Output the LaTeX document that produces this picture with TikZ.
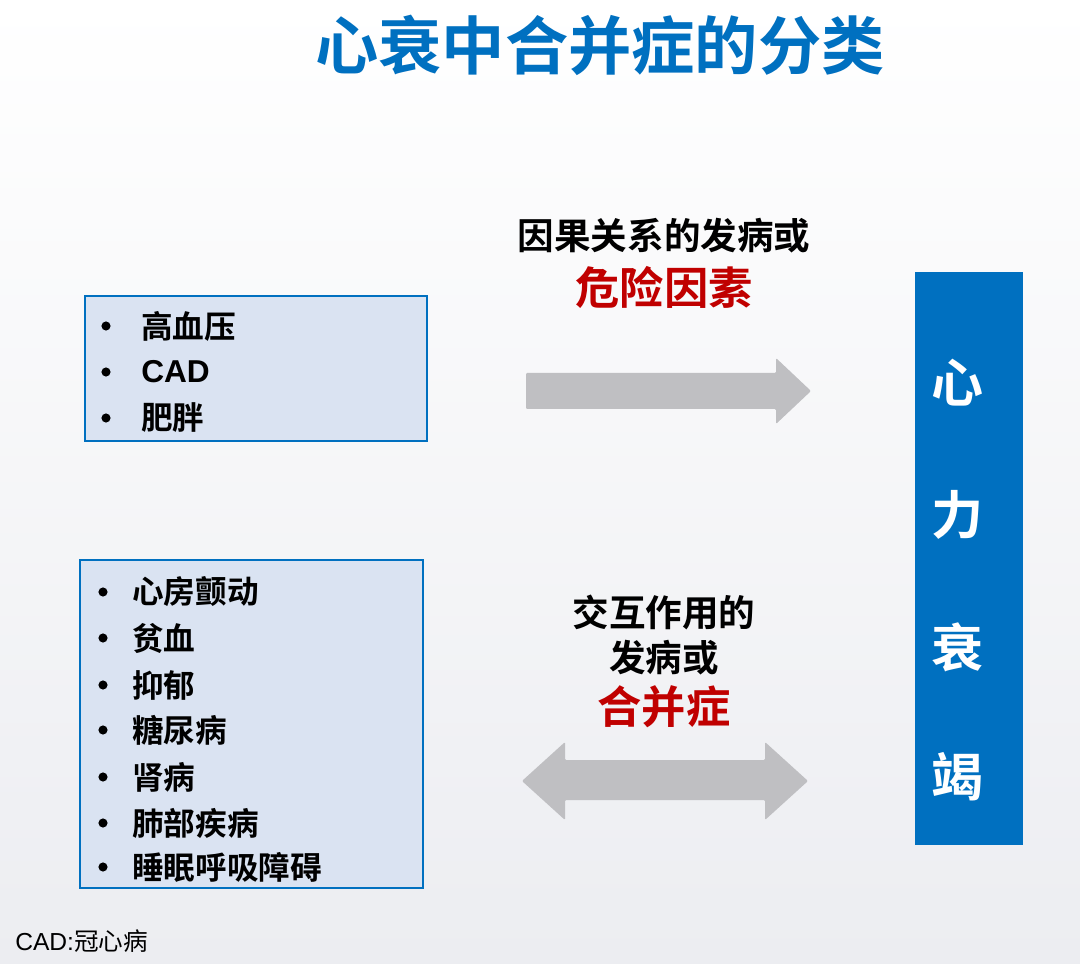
\documentclass[tikz,border=0pt]{standalone}
\usepackage{fontspec}
\setmainfont{Noto Sans CJK SC}[BoldFont={* Bold}]
\newfontfamily\latinfont{Liberation Sans}
\usepackage{xcolor}
\usepackage{tikz}
\usetikzlibrary{positioning, calc}
\definecolor{hfblue}{HTML}{0070C0}
\definecolor{hfred}{HTML}{C00000}
\definecolor{boxfill}{HTML}{DAE3F2}
\definecolor{arrowgrey}{HTML}{BFBFC2}
\definecolor{bgbottom}{HTML}{ECEDF1}
\tikzstyle{titletext} = [text=hfblue, font=\fontsize{45}{50}\selectfont\bfseries]
\tikzstyle{listbox} = [rectangle, draw=hfblue, line width=1.2pt, fill=boxfill, inner sep=0pt]
\tikzstyle{item} = [anchor=west, inner sep=0pt, font=\fontsize{22.5}{26}\selectfont\bfseries]
\tikzstyle{dot} = [circle, fill=black, inner sep=0pt, minimum size=6.5pt]
\tikzstyle{label} = [align=center, inner sep=0pt, font=\fontsize{26}{32}\selectfont\bfseries]
\tikzstyle{redlabel} = [align=center, inner sep=0pt, text=hfred, font=\fontsize{31.5}{36}\selectfont\bfseries]
\tikzstyle{bar} = [rectangle, fill=hfblue, inner sep=0pt]
\tikzstyle{barchar} = [text=white, inner sep=0pt, font=\fontsize{37}{40}\selectfont\bfseries]
\tikzstyle{bigarrow} = [fill=arrowgrey, rounded corners=0.8pt]

\begin{document}
\begin{tikzpicture}[x=0.025cm, y=-0.025cm]

% Background
\shade[top color=white, bottom color=bgbottom] (0,0) rectangle (1080,964);
\useasboundingbox (0,0) rectangle (1080,964);

% Title
\node (title) [titletext] at (600,45) {心衰中合并症的分类};

% Left boxes
\node (riskbox) [listbox, minimum width=8.55cm, minimum height=3.625cm] at (256,368.5) {};
\node (combox) [listbox, minimum width=8.575cm, minimum height=8.2cm] at (251.5,724) {};

\foreach \y/\txt in {326/高血压, 372/{\latinfont CAD}, 418/肥胖} {
  \node [dot] at (106,\y) {};
  \node [item] at (141,\y) {\txt};
}
\foreach \y/\txt in {592/心房颤动, 638/贫血, 685/抑郁, 730/糖尿病, 777/肾病, 823/肺部疾病, 867/睡眠呼吸障碍} {
  \node [dot] at (103,\y) {};
  \node [item] at (132,\y) {\txt};
}

% Right bar
\node (hf) [bar, minimum width=2.7cm, minimum height=14.325cm] at (969,558.5) {};
\foreach \y/\ch in {383/心, 515/力, 647/衰, 777/竭}
  \node [barchar] at (958,\y) {\ch};

% Labels
\node (causal) [label] at (664,236) {因果关系的发病或};
\node (risk) [redlabel] at (664,287) {危险因素};
\node (inter) [label] at (664,635) {交互作用的\\发病或};
\node (comorb) [redlabel] at (664,707) {合并症};

% Arrows
\fill[bigarrow] (526,373) -- (776,373) -- (776,358) -- (811,391) -- (776,424) -- (776,409) -- (526,409) -- cycle;
\fill[bigarrow] (522,781) -- (565,742) -- (565,760) -- (765,760) -- (765,742) -- (808,781) -- (765,820) -- (765,800) -- (565,800) -- (565,820) -- cycle;

% Footnote
\node (note) [anchor=west, inner sep=0pt, font=\fontsize{17.5}{21}\selectfont] at (15,941) {{\latinfont CAD:}冠心病};

\end{tikzpicture}
\end{document}
